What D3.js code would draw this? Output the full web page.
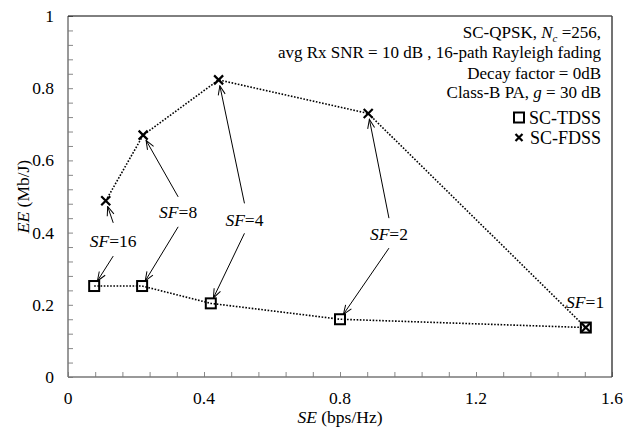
<!DOCTYPE html>
<html>
<head>
<meta charset="utf-8">
<script src="https://cdn.jsdelivr.net/npm/d3@7"></script>
<style>
  body { margin: 0; background: #fff; }
  svg text { font-family: 'Liberation Serif', 'Times New Roman', serif; fill: #000; }
</style>
</head>
<body>
<svg id="chart" width="635" height="428"></svg>
<script>
// series values
var seTDSS = [0.077, 0.218, 0.42, 0.80, 1.523];
var eeTDSS = [0.252, 0.252, 0.204, 0.160, 0.137];
var seFDSS = [0.111, 0.221, 0.443, 0.883, 1.523];
var eeFDSS = [0.488, 0.670, 0.823, 0.730, 0.137];

var xTicks = [0, 0.4, 0.8, 1.2, 1.6];
var yTicks = [0, 0.2, 0.4, 0.6, 0.8, 1];

// SF labels: text, label position (data units), arrow start heights
var sfLabels = ['16', '8', '4', '2', '1'];
var sfLabelX = [0.133, 0.324, 0.519, 0.944, 1.521];
var sfLabelY = [0.377, 0.456, 0.435, 0.396, 0.208];
var sfUpStartY = [0.427, 0.499, 0.481, 0.440, null];
var sfDownStartY = [0.335, 0.416, 0.398, 0.357, null];

var margin = { left: 68, right: 23, top: 16, bottom: 51 };
var width = 635, height = 428;

var svg = d3.select('#chart').attr('font-family', "'Liberation Serif', 'Times New Roman', serif");

var x = d3.scaleLinear().domain([0, 1.6]).range([margin.left, width - margin.right]);
var y = d3.scaleLinear().domain([0, 1]).range([height - margin.bottom, margin.top]);

var fontSize = 17.5;

// minor + major ticks, drawn inside the box
var gx = svg.append('g')
  .attr('transform', 'translate(0,' + y(0) + ')')
  .call(d3.axisBottom(x).tickValues(d3.range(0, 1.6001, 0.08)).tickSize(-5).tickFormat(''));
var gy = svg.append('g')
  .attr('transform', 'translate(' + x(0) + ',0)')
  .call(d3.axisLeft(y).tickValues(d3.range(0, 1.0001, 0.04)).tickSize(-5).tickFormat(''));
gx.selectAll('line').attr('stroke', '#888');
gy.selectAll('line').attr('stroke', '#888');
gx.select('.domain').remove();
gy.select('.domain').remove();

// frame
svg.append('line').attr('x1', x(0)).attr('x2', x(1.6)).attr('y1', y(0)).attr('y2', y(0))
  .attr('stroke', '#777').attr('stroke-width', 1.5);
svg.append('line').attr('x1', x(0)).attr('x2', x(0)).attr('y1', y(0)).attr('y2', y(1))
  .attr('stroke', '#777').attr('stroke-width', 1.5);
svg.append('line').attr('x1', x(0)).attr('x2', x(1.6)).attr('y1', y(1)).attr('y2', y(1))
  .attr('stroke', '#000').attr('stroke-width', 1);
svg.append('line').attr('x1', x(1.6)).attr('x2', x(1.6)).attr('y1', y(0)).attr('y2', y(1))
  .attr('stroke', '#444').attr('stroke-width', 1.5);

// tick labels
svg.selectAll('text.xtick').data(xTicks).enter().append('text')
  .attr('class', 'xtick')
  .attr('x', d => x(d)).attr('y', y(0) + 27)
  .attr('text-anchor', 'middle').attr('font-size', fontSize)
  .text(d => d);
svg.selectAll('text.ytick').data(yTicks).enter().append('text')
  .attr('class', 'ytick')
  .attr('x', x(0) - 14).attr('y', d => y(d) + 6)
  .attr('text-anchor', 'end').attr('font-size', fontSize)
  .text(d => d);

// axis titles
var xt = svg.append('text')
  .attr('x', (x(0) + x(1.6)) / 2).attr('y', height - 5)
  .attr('text-anchor', 'middle').attr('font-size', fontSize);
xt.append('tspan').attr('font-style', 'italic').text('SE');
xt.append('tspan').text(' (bps/Hz)');

var yt = svg.append('text')
  .attr('transform', 'translate(29,' + (y(0) + y(1)) / 2 + ') rotate(-90)')
  .attr('text-anchor', 'middle').attr('font-size', fontSize);
yt.append('tspan').attr('font-style', 'italic').text('EE');
yt.append('tspan').text(' (Mb/J)');

// dotted lines
var line = d3.line().x(d => x(d[0])).y(d => y(d[1]));
var tdss = seTDSS.map((d, i) => [d, eeTDSS[i]]);
var fdss = seFDSS.map((d, i) => [d, eeFDSS[i]]);

[tdss, fdss].forEach(function(pts) {
  svg.append('path')
    .datum(pts)
    .attr('d', line)
    .attr('fill', 'none')
    .attr('stroke', '#000')
    .attr('stroke-width', 1.6)
    .attr('stroke-dasharray', '1.6,1.6');
});

// markers
svg.selectAll('rect.tdss').data(tdss).enter().append('rect')
  .attr('class', 'tdss')
  .attr('x', d => x(d[0]) - 5).attr('y', d => y(d[1]) - 5)
  .attr('width', 10).attr('height', 10)
  .attr('fill', 'none').attr('stroke', '#000').attr('stroke-width', 2);

function cross(g, cx, cy, s) {
  g.append('path')
    .attr('d', 'M' + (cx - s) + ',' + (cy - s) + 'L' + (cx + s) + ',' + (cy + s) +
      'M' + (cx - s) + ',' + (cy + s) + 'L' + (cx + s) + ',' + (cy - s))
    .attr('stroke', '#000').attr('stroke-width', 2.2).attr('fill', 'none');
}
fdss.forEach(d => cross(svg, x(d[0]), y(d[1]), 4.5));

// arrows
svg.append('defs').append('marker')
  .attr('id', 'arr')
  .attr('markerUnits', 'userSpaceOnUse')
  .attr('viewBox', '-1 -5 11 10')
  .attr('refX', 9).attr('refY', 0)
  .attr('markerWidth', 11).attr('markerHeight', 10)
  .attr('orient', 'auto')
  .append('path')
  .attr('d', 'M0,-3.5L9,0L0,3.5')
  .attr('fill', 'none').attr('stroke', '#000').attr('stroke-width', 1);

function arrow(x0, y0, pt) {
  var sx = x(x0), sy = y(y0), tx = x(pt[0]), ty = y(pt[1]);
  var dx = tx - sx, dy = ty - sy, len = Math.sqrt(dx * dx + dy * dy);
  var ex = tx - dx / len * 6, ey = ty - dy / len * 6;
  svg.append('line')
    .attr('x1', sx).attr('y1', sy).attr('x2', ex).attr('y2', ey)
    .attr('stroke', '#000').attr('stroke-width', 1)
    .attr('marker-end', 'url(#arr)');
}

sfLabels.forEach(function(lab, i) {
  var t = svg.append('text')
    .attr('x', x(sfLabelX[i])).attr('y', y(sfLabelY[i]) + 6)
    .attr('text-anchor', 'middle').attr('font-size', fontSize);
  t.append('tspan').attr('font-style', 'italic').text('SF');
  t.append('tspan').text('=' + lab);
  if (sfUpStartY[i] != null) arrow(sfLabelX[i], sfUpStartY[i], fdss[i]);
  if (sfDownStartY[i] != null) arrow(sfLabelX[i], sfDownStartY[i], tdss[i]);
});

// info text, top right
var rx = 601;
var info = svg.append('g').attr('font-size', 17);
var l1 = info.append('text').attr('x', rx).attr('y', 38).attr('text-anchor', 'end');
l1.append('tspan').text('SC-QPSK, ');
l1.append('tspan').attr('font-style', 'italic').text('N');
l1.append('tspan').attr('font-style', 'italic').attr('font-size', 11).attr('dy', 4).text('c');
l1.append('tspan').attr('dy', -4).text(' =256,');
info.append('text').attr('x', rx).attr('y', 58).attr('text-anchor', 'end')
  .text('avg Rx SNR = 10 dB , 16-path Rayleigh fading');
info.append('text').attr('x', rx).attr('y', 79).attr('text-anchor', 'end')
  .text('Decay factor = 0dB');
var l4 = info.append('text').attr('x', rx).attr('y', 98).attr('text-anchor', 'end');
l4.append('tspan').text('Class-B PA, ');
l4.append('tspan').attr('font-style', 'italic').text('g');
l4.append('tspan').text(' = 30 dB');

// legend
info.append('text').attr('x', rx).attr('y', 124).attr('text-anchor', 'end')
  .attr('font-size', 18).text('SC-TDSS');
info.append('text').attr('x', rx).attr('y', 144).attr('text-anchor', 'end')
  .attr('font-size', 18).text('SC-FDSS');
svg.append('rect').attr('x', 514).attr('y', 112.5).attr('width', 10).attr('height', 10)
  .attr('fill', 'none').attr('stroke', '#000').attr('stroke-width', 2);
cross(svg, 519, 137.5, 3.5);
</script>
</body>
</html>
